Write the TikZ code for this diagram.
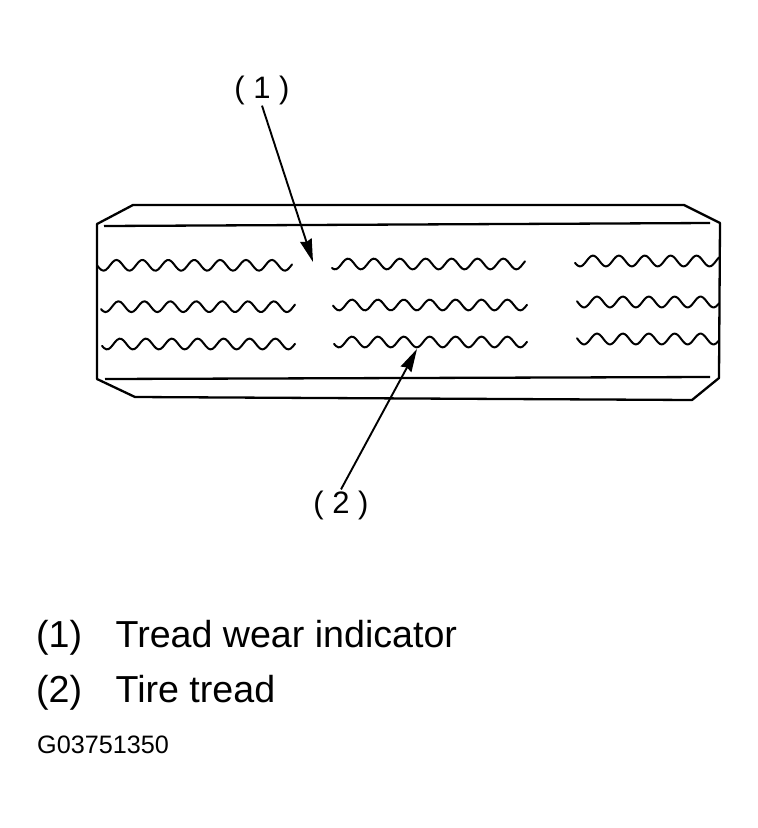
\documentclass[tikz,border=0pt]{standalone}
\usepackage{fontspec}
\setmainfont{Liberation Sans}
\usetikzlibrary{arrows.meta}
\tikzset{
  ink/.style={draw=black,line width=2.3pt,line join=round},
  thinink/.style={draw=black,line width=2pt,line cap=round},
  leader/.style={draw=black,line width=1.9pt,-{Stealth[length=23pt,width=12pt,inset=2pt]}},
  callout/.style={font=\fontsize{31}{33}\selectfont,inner sep=1pt,anchor=center},
  legend/.style={font=\fontsize{37.6}{40}\selectfont,inner sep=0pt,anchor=base west},
  code/.style={font=\fontsize{25.2}{27}\selectfont,inner sep=0pt,anchor=base west}
}
\begin{document}
\begin{tikzpicture}[x=1pt,y=-1pt]
\useasboundingbox (0,0) rectangle (758,828);
% tread outline
\path[ink] (97,224) -- (133,205) -- (684,205) -- (720,223) -- (719,378) -- (692,400) -- (135,397) -- (97,379) -- cycle;
\path[ink] (104,226) -- (710,223);
\path[ink] (105,379) -- (710,377);
% wavy grooves: start, end, centre y, a crest x
\foreach \xa/\xb/\yc/\xc in {
  97/292/265.3/116.5, 101/295/306.7/118.5, 102/295/344/120,
  332/525/264/348, 333/527/305/352, 334/527/342/352,
  575/719/261/593, 577/719/302/597, 577/719/339/597}{
  \draw[thinink,line join=round] plot[domain=\xa:\xb,samples=90,smooth] (\x,{\yc-5.4*cos((\x-\xc)/25.9*360)});
}
% callouts
\node[callout] (l1) at (262,90) {( 1 )};
\node[callout] (l2) at (341,505) {( 2 )};
\coordinate (t1) at (313,262);
\coordinate (t2) at (417,349);
\draw[leader] (l1.south) -- (t1);
\draw[leader] (l2.north) -- (t2);
% legend
\node[legend] (n1) at (36,647) {(1)};
\node[legend] (d1) at (115.5,647) {Tread wear indicator};
\node[legend] (n2) at (36,702) {(2)};
\node[legend] (d2) at (115.5,702) {Tire tread};
\node[code] (c) at (37,753) {G03751350};
\end{tikzpicture}
\end{document}
